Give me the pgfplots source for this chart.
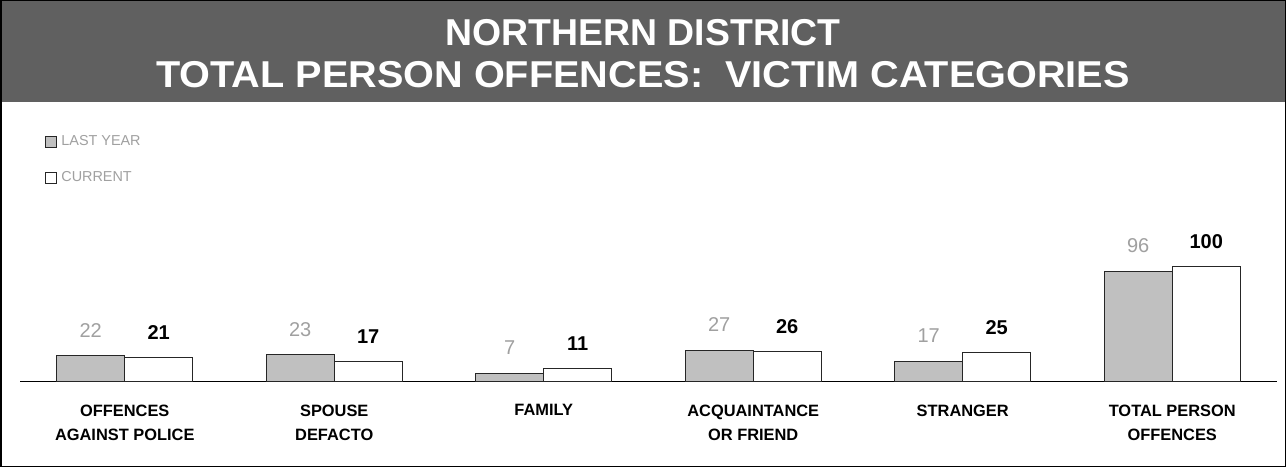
\documentclass[border=0pt]{standalone}
\usepackage{pgfplots}
\pgfplotsset{compat=1.18}
\usepackage{graphicx}
\usepackage{fontspec}
\setmainfont{Liberation Sans}
\definecolor{banner}{HTML}{606060}
\definecolor{lastyr}{HTML}{C0C0C0}
\definecolor{lbl}{HTML}{A0A0A0}
\begin{document}
\begin{tikzpicture}[x=1pt,y=1pt]
\fill[white] (0,0) rectangle (643,233.5);
\fill[banner] (0,182.5) rectangle (643,233.5);
\node[text=white, font=\bfseries\fontsize{18.7}{21}\selectfont, align=center] at (321.5,206.5) {NORTHERN DISTRICT\\\scalebox{1.06}[1]{TOTAL PERSON OFFENCES:\ \ VICTIM CATEGORIES}};
\begin{axis}[
  at={(10pt,43pt)}, anchor=south west,
  scale only axis, width=628.5pt, height=91.2pt,
  xmin=-0.5, xmax=5.5, ymin=0, ymax=160,
  ybar=0pt, bar width=34pt,
  axis y line=none, axis x line*=bottom,
  x axis line style={black, line width=0.5pt},
  xtick={0,1,2,3,4,5},
  xticklabels={{OFFENCES\\AGAINST POLICE},{SPOUSE\\DEFACTO},{FAMILY},{ACQUAINTANCE\\OR FRIEND},{STRANGER},{TOTAL PERSON\\OFFENCES}},
  major tick length=0pt,
  xticklabel style={align=center, font=\bfseries\fontsize{8.2}{12.3}\selectfont, yshift=-8.3pt},
  /pgf/number format/assume math mode=true,
  clip=false,
  legend style={at={(axis description cs:0,1)}, anchor=north west, xshift=12.5pt, yshift=34pt,
    draw=none, fill=none, font=\fontsize{7.2}{8}\selectfont, text=lbl, row sep=7.5pt, inner sep=0pt},
  legend cell align=left,
]
\addplot[fill=lastyr, draw=black!85, line width=0.5pt,
  nodes near coords, every node near coord/.append style={text=lbl, font=\fontsize{10}{11}\selectfont, anchor=center, yshift=12.8pt},
  legend image code/.code={\draw[fill=lastyr, draw=black!85, line width=0.5pt] (0pt,-2.75pt) rectangle (5.5pt,2.75pt);}]
  coordinates {(0,22) (1,23) (2,7) (3,27) (4,17) (5,96)};
\addlegendentry{LAST YEAR}
\addplot[fill=white, draw=black!85, line width=0.5pt,
  nodes near coords, every node near coord/.append style={text=black, font=\bfseries\fontsize{10}{11}\selectfont, anchor=center, yshift=12.5pt},
  legend image code/.code={\draw[fill=white, draw=black!85, line width=0.5pt] (0pt,-2.75pt) rectangle (5.5pt,2.75pt);}]
  coordinates {(0,21) (1,17) (2,11) (3,26) (4,25) (5,100)};
\addlegendentry{CURRENT}
\end{axis}
\draw[black, line width=0.75pt] (0.375,0.375) rectangle (642.625,233.125);
\end{tikzpicture}
\end{document}
